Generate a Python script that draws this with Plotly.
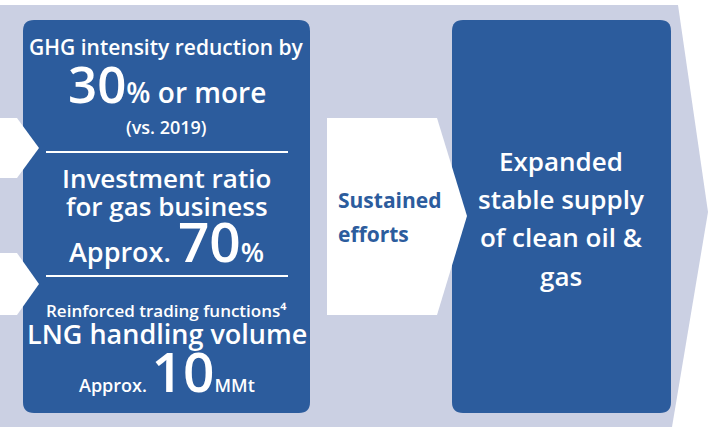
import plotly.graph_objects as go

W, H = 717, 427

BLUE = "#2c5c9d"
LAVENDER = "#cbd0e3"
WHITE = "#ffffff"
FONT = "Open Sans"

# text content of the infographic
left_lines = [
    "GHG intensity reduction by",
    "<span style='font-size:51px'>30</span>% or more",
    "(vs. 2019)",
    "Investment ratio",
    "for gas business",
    "Approx. <span style='font-size:55px'>70</span>%",
    "Reinforced trading functions⁴",
    "LNG handling volume",
    "Approx. <span style='font-size:55px'>10</span>MMt",
]
left_y = [47, 83, 127, 178, 206, 240, 310, 333, 370]
left_size = [21, 28, 18, 26, 26, 27, 17, 27, 18]

middle_lines = ["Sustained", "efforts"]
middle_y = [200, 234]

right_lines = ["Expanded", "stable supply", "of clean oil &", "gas"]
right_y = [161, 199, 237, 276]


def rounded_rect(x0, y0, x1, y1, r):
    return (
        f"M{x0 + r},{y0} L{x1 - r},{y0} Q{x1},{y0} {x1},{y0 + r} "
        f"L{x1},{y1 - r} Q{x1},{y1} {x1 - r},{y1} "
        f"L{x0 + r},{y1} Q{x0},{y1} {x0},{y1 - r} "
        f"L{x0},{y0 + r} Q{x0},{y0} {x0 + r},{y0} Z"
    )


def poly(points):
    return "M" + " L".join(f"{x},{y}" for x, y in points) + " Z"


shapes = [
    # background chevron band
    dict(type="path", path=poly([(0, 5), (678, 5), (708, 212), (672, 427), (0, 427)]),
         fillcolor=LAVENDER, line_width=0, layer="below"),
    # left blue box
    dict(type="path", path=rounded_rect(23, 20, 310, 413, 11),
         fillcolor=BLUE, line_width=0, layer="below"),
    # right blue box
    dict(type="path", path=rounded_rect(452, 20, 671, 413, 11),
         fillcolor=BLUE, line_width=0, layer="below"),
    # small white arrows on the left
    dict(type="path", path=poly([(0, 118), (17, 118), (39, 148), (17, 178), (0, 178)]),
         fillcolor=WHITE, line_width=0, layer="below"),
    dict(type="path", path=poly([(0, 253), (17, 253), (39, 284), (17, 315), (0, 315)]),
         fillcolor=WHITE, line_width=0, layer="below"),
    # middle white arrow
    dict(type="path", path=poly([(327, 118), (437, 118), (467, 216), (437, 315), (327, 315)]),
         fillcolor=WHITE, line_width=0, layer="below"),
    # divider lines
    dict(type="line", x0=46, x1=288, y0=152, y1=152, line=dict(color=WHITE, width=2)),
    dict(type="line", x0=46, x1=288, y0=276, y1=276, line=dict(color=WHITE, width=2)),
]

fig = go.Figure()
fig.add_trace(go.Scatter(x=[0, W], y=[0, H], mode="markers",
                         marker=dict(opacity=0), hoverinfo="skip", showlegend=False))

for text, y, size in zip(left_lines, left_y, left_size):
    fig.add_annotation(x=166.5, y=y, text=text, showarrow=False,
                       xanchor="center", yanchor="middle",
                       font=dict(family=FONT, size=size, color=WHITE, weight=600))

for text, y in zip(middle_lines, middle_y):
    fig.add_annotation(x=336, y=y, text=text, showarrow=False,
                       xanchor="left", yanchor="middle",
                       font=dict(family=FONT, size=21, color=BLUE, weight=700))

for text, y in zip(right_lines, right_y):
    fig.add_annotation(x=561, y=y, text=text, showarrow=False,
                       xanchor="center", yanchor="middle",
                       font=dict(family=FONT, size=26, color=WHITE, weight=600))

fig.update_layout(
    width=W, height=H,
    margin=dict(l=0, r=0, t=0, b=0),
    paper_bgcolor=WHITE, plot_bgcolor=WHITE,
    shapes=shapes,
    showlegend=False,
    xaxis=dict(range=[0, W], visible=False, fixedrange=True),
    yaxis=dict(range=[H, 0], visible=False, fixedrange=True),
)

# drop the page's default body margin so the figure sits at the window's corner
fig.write_html("out.html", config={"displayModeBar": False},
               post_script="document.body.style.margin='0';")
